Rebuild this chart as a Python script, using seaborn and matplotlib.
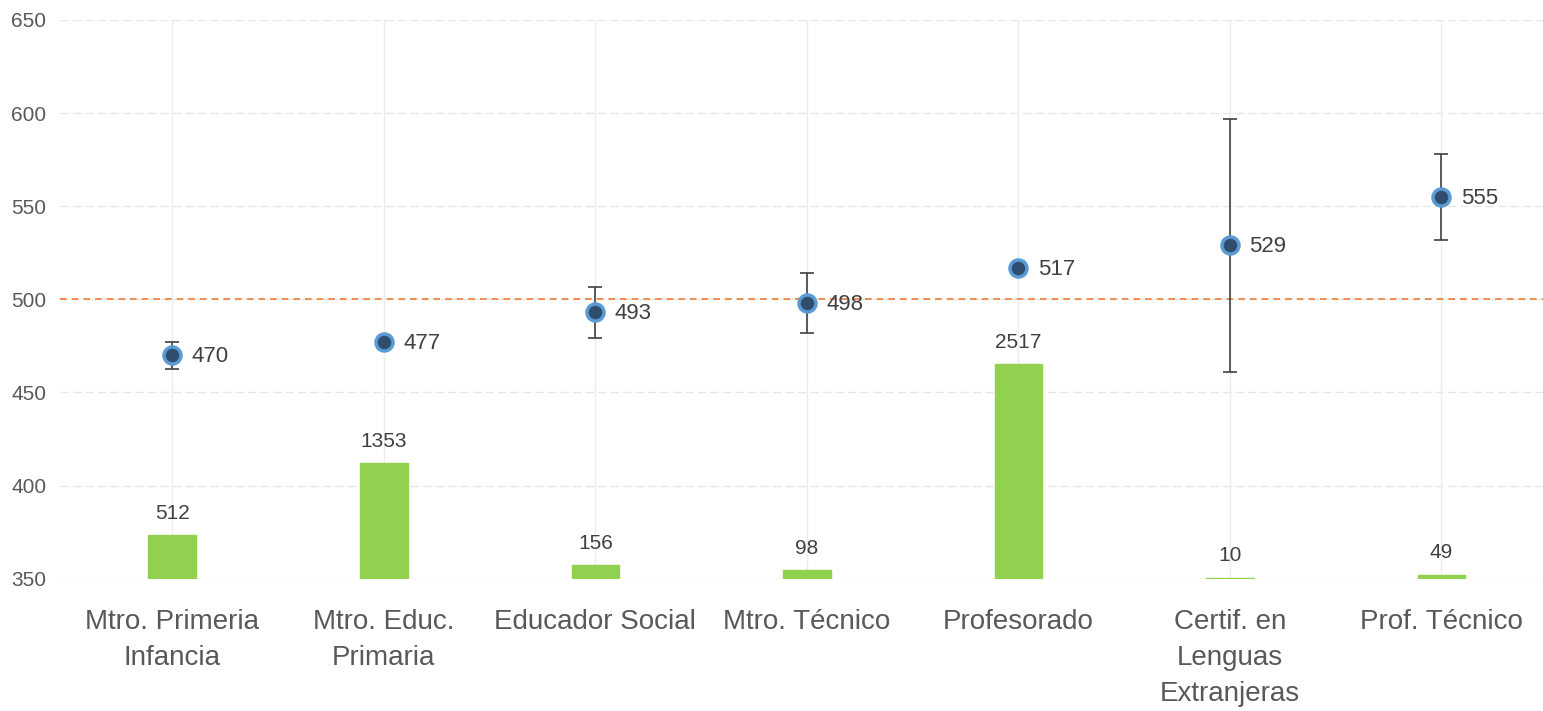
import matplotlib
matplotlib.use("Agg")
import matplotlib.pyplot as plt
import matplotlib.transforms as mtrans
from matplotlib import font_manager as fm
import seaborn as sns
import pandas as pd
import numpy as np

categories = ["Mtro. Primeria\nInfancia", "Mtro. Educ.\nPrimaria", "Educador Social",
              "Mtro. Técnico", "Profesorado", "Certif. en\nLenguas\nExtranjeras", "Prof. Técnico"]
scores = [470, 477, 493, 498, 517, 529, 555]
score_err = [7.3, 3, 13.5, 16, 1, 68, 23]
counts = [512, 1353, 156, 98, 2517, 10, 49]
reference_value = 500
y_ticks = [350, 400, 450, 500, 550, 600, 650]

sns.set_theme(style="white")
families = []
for f in ['Liberation Sans Narrow', 'Liberation Sans', 'DejaVu Sans']:
    try:
        fm.findfont(f, fallback_to_default=False)
        families.append(f)
    except Exception:
        pass
plt.rcParams['font.family'] = families or ['DejaVu Sans']

df = pd.DataFrame({"cat": categories, "score": scores, "err": score_err, "n": counts})
df["pos"] = np.arange(len(df))

fig = plt.figure(figsize=(15.43, 7.11), dpi=100)
ax = fig.add_axes([0.039, 0.186, 0.961, 0.786])
ax2 = ax.twinx()

text_col = "#595959"
ax.set_ylim(350, 650)
ax.set_xlim(-0.53, 6.48)
ax2.set_xlim(ax.get_xlim())
ax2.set_ylim(0, 6550)

# gridlines (drawn on the back axes so bars cover them)
htrans = mtrans.blended_transform_factory(ax2.transAxes, ax.transData)
for yv in y_ticks:
    ax2.plot([0, 1], [yv, yv], transform=htrans, color="#e6e6e6", lw=1,
             ls=(0, (6, 3)), zorder=0)
vtrans = mtrans.blended_transform_factory(ax.transData, ax2.transAxes)
for p in df["pos"]:
    ax2.plot([p, p], [0, 1], transform=vtrans, color="#ececec", lw=1, zorder=0)

# bars on secondary axis
sns.barplot(data=df, x="pos", y="n", ax=ax2, color="#92d050", width=0.225,
            saturation=1, native_scale=True, zorder=2,
            edgecolor="#92d050", linewidth=1)
ax2.set_ylim(0, 6550)
ax2.set_yticks([])
ax2.set_ylabel("")
for p, n in zip(df["pos"], df["n"]):
    ax2.annotate(str(n), (p, n), xytext=(0, 9), textcoords="offset points",
                 ha="center", va="bottom", fontsize=15, color="#404040")

ax.set_yticks(y_ticks)
ax.axhline(reference_value, color="#ed7d31", lw=1.2, ls=(0, (4, 3)), zorder=1)

# points with error bars
ax.errorbar(df["pos"], df["score"], yerr=df["err"], fmt="none", ecolor="#404040",
            elinewidth=1.2, capsize=5, capthick=1.2, zorder=3)
sns.scatterplot(data=df, x="pos", y="score", ax=ax, s=150, color="#2f4d6d",
                edgecolor="#5b9bd5", linewidth=2.5, zorder=4, legend=False)
for p, s in zip(df["pos"], df["score"]):
    ax.annotate(str(s), (p, s), xytext=(14, -1), textcoords="offset points",
                ha="left", va="center", fontsize=16, color="#404040")

ax.set_zorder(ax2.get_zorder() + 1)
ax.patch.set_visible(False)

ax.set_xticks(df["pos"])
ax.set_xticklabels(categories, fontsize=20, color=text_col, linespacing=1.5)
ax.tick_params(axis="y", labelsize=15, labelcolor=text_col, length=0, pad=10)
ax.tick_params(axis="x", length=0, pad=22)
ax.set_xlabel("")
ax.set_ylabel("")
ax2.set_xlabel("")
for a in (ax, ax2):
    for s in a.spines.values():
        s.set_visible(False)
ax2.set_xlim(ax.get_xlim())

fig.savefig("out.png", dpi=100)
